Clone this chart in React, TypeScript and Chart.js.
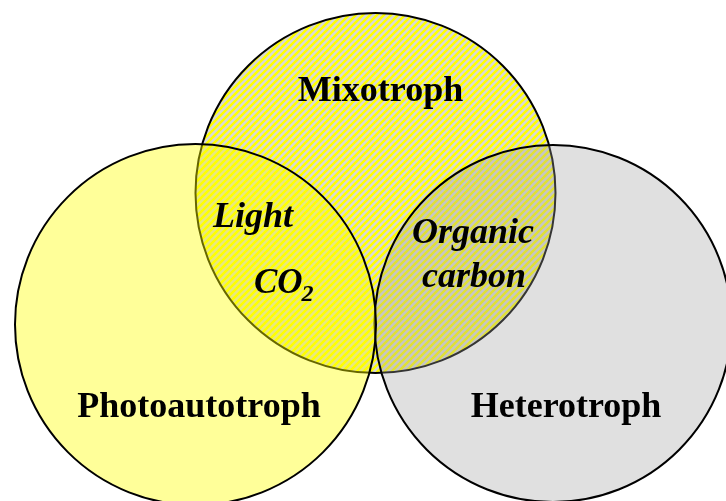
import React, { useEffect, useRef } from "react";
import { Chart, registerables } from "chart.js";

Chart.register(...registerables);

// Venn sets (drawn from the library's bubble scales)
const setNames = ["Photoautotroph", "Heterotroph", "Mixotroph"];
const centerX = [195.5, 553, 375.5];
const centerY = [324.5, 323.5, 193];
const radii = [180.5, 178.5, 180];

// Labels
const titleTexts = ["Mixotroph", "Photoautotroph", "Heterotroph"];
const titleX = [380.5, 199, 566];
const titleY = [101, 417, 417];

const resourceTexts = ["Light", "Organic", "carbon"];
const resourceX = [253, 473, 474];
const resourceY = [227, 243, 287];

const co2Main = "CO";
const co2Sub = "2";
const co2X = 254;
const co2Y = 293;

const W = 726;
const H = 501;

function makeHatch(): CanvasPattern | string {
  const n = 7;
  const c = document.createElement("canvas");
  c.width = n;
  c.height = n;
  const g = c.getContext("2d");
  if (!g) return "#d9d9d9";
  g.fillStyle = "#d9d9d9";
  g.fillRect(0, 0, n, n);
  g.strokeStyle = "#ffff00";
  g.lineWidth = 2.5;
  g.beginPath();
  for (let k = -1; k <= 1; k++) {
    g.moveTo(k * n - 1, n + 1);
    g.lineTo(k * n + n + 1, -1);
  }
  g.stroke();
  const p = g.createPattern(c, "repeat");
  return p || "#d9d9d9";
}

const labelPlugin = {
  id: "vennLabels",
  afterDatasetsDraw(chart: any) {
    const ctx = chart.ctx as CanvasRenderingContext2D;
    const xs = chart.scales.x;
    const ys = chart.scales.y;
    const fam = '"Liberation Serif", "Times New Roman", serif';
    ctx.save();
    ctx.fillStyle = "#000";
    ctx.textBaseline = "alphabetic";
    ctx.textAlign = "center";
    ctx.font = `bold 36px ${fam}`;
    titleTexts.forEach((t, i) => {
      ctx.fillText(t, xs.getPixelForValue(titleX[i]), ys.getPixelForValue(titleY[i]));
    });
    ctx.font = `italic bold 36px ${fam}`;
    resourceTexts.forEach((t, i) => {
      ctx.fillText(t, xs.getPixelForValue(resourceX[i]), ys.getPixelForValue(resourceY[i]));
    });
    ctx.textAlign = "left";
    const cx = xs.getPixelForValue(co2X);
    const cy = ys.getPixelForValue(co2Y);
    ctx.font = `italic bold 35px ${fam}`;
    ctx.fillText(co2Main, cx, cy);
    const w = ctx.measureText(co2Main).width;
    ctx.font = `italic bold 24px ${fam}`;
    ctx.fillText(co2Sub, cx + w - 1, cy + 8);
    ctx.restore();
  },
};

export default function App() {
  const ref = useRef<HTMLCanvasElement | null>(null);

  useEffect(() => {
    document.body.style.margin = "0";
    const canvas = ref.current;
    if (!canvas) return;
    const hatch = makeHatch();
    const fills = ["rgba(255,255,0,0.4)", "rgba(160,160,160,0.33)", hatch];
    const borders = ["#000000", "#000000", "#000000"];
    const datasets = setNames.map((name, i) => ({
      label: name,
      data: [{ x: centerX[i], y: centerY[i], r: radii[i] }],
      backgroundColor: fills[i],
      borderColor: borders[i],
      borderWidth: 2,
      hoverRadius: 0,
      hoverBorderWidth: 2,
      clip: false as any,
    }));
    const chart = new Chart(canvas, {
      type: "bubble",
      data: { datasets: datasets as any },
      options: {
        responsive: false,
        animation: false,
        devicePixelRatio: 1,
        events: [],
        layout: { padding: 0, autoPadding: false },
        plugins: {
          legend: { display: false },
          tooltip: { enabled: false },
          title: { display: false },
        },
        scales: {
          x: { type: "linear", min: 0, max: W, display: false },
          y: { type: "linear", min: 0, max: H, reverse: true, display: false },
        },
      },
      plugins: [labelPlugin],
    });
    return () => chart.destroy();
  }, []);

  return (
    <div style={{ width: W, height: H, background: "#fff" }}>
      <canvas ref={ref} width={W} height={H} style={{ display: "block" }} />
    </div>
  );
}
